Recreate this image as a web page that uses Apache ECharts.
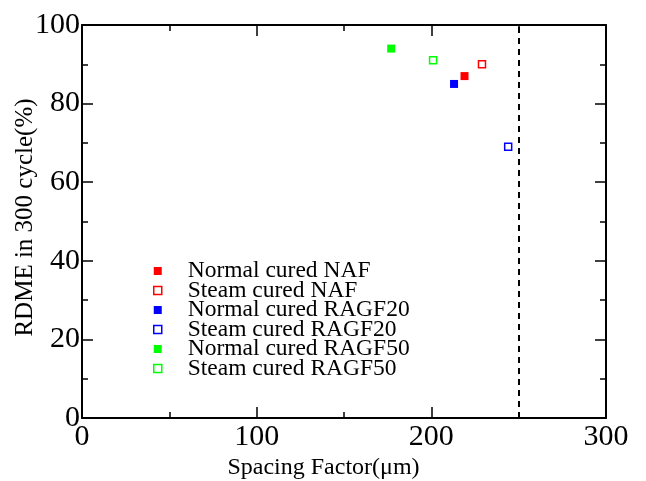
<!DOCTYPE html>
<html>
<head>
<meta charset="utf-8">
<script src="https://cdn.jsdelivr.net/npm/echarts@6/dist/echarts.min.js"></script>
<style>
  html, body { margin: 0; padding: 0; background: #fff; }
  #main { width: 646px; height: 481px; }
</style>
</head>
<body>
<div id="main"></div>
<script>
// data
var seriesNames = ['Normal cured NAF', 'Steam cured NAF', 'Normal cured RAGF20',
                   'Steam cured RAGF20', 'Normal cured RAGF50', 'Steam cured RAGF50'];
var spacingFactor = [219, 229, 213, 244, 177, 201];
var rdme = [87, 90, 85, 69, 94, 91];
var hollow = [false, true, false, true, false, true];
var seriesColors = ['#ff0000', '#ff0000', '#0000ff', '#0000ff', '#00ff00', '#00ff00'];
var limitLine = 250;

var fontFamily = '"Liberation Serif", "Times New Roman", serif';

function mirrorAxis(base, pos) {
    var ax = JSON.parse(JSON.stringify(base));
    ax.position = pos;
    ax.axisLabel = { show: false };
    ax.name = '';
    return ax;
}

var xBase = {
    type: 'value', min: 0, max: 300, interval: 100,
    axisLine: { show: true, onZero: false, lineStyle: { color: '#000', width: 2 } },
    axisTick: { show: true, inside: true, length: 11, lineStyle: { color: '#000', width: 1.5 } },
    minorTick: { show: true, splitNumber: 2, length: 6, lineStyle: { color: '#000', width: 1.5 } },
    splitLine: { show: false },
    axisLabel: { color: '#000', fontFamily: fontFamily, fontSize: 30, margin: 4 },
    name: 'Spacing Factor(\u03bcm)', nameLocation: 'middle', nameGap: 38, nameMoveOverlap: false,
    nameTextStyle: { color: '#000', fontFamily: fontFamily, fontSize: 24, padding: [0, 41, 0, 0] }
};
var yBase = {
    type: 'value', min: 0, max: 100, interval: 20,
    axisLine: { show: true, onZero: false, lineStyle: { color: '#000', width: 2 } },
    axisTick: { show: true, inside: true, length: 11, lineStyle: { color: '#000', width: 1.5 } },
    minorTick: { show: true, splitNumber: 2, length: 6, lineStyle: { color: '#000', width: 1.5 } },
    splitLine: { show: false },
    axisLabel: { color: '#000', fontFamily: fontFamily, fontSize: 30, margin: 2 },
    name: 'RDME in 300 cycle(%)', nameLocation: 'middle', nameGap: 44, nameMoveOverlap: false,
    nameTextStyle: { color: '#000', fontFamily: fontFamily, fontSize: 25, padding: [0, 0, 0, 8] }
};

var series = [];
var legendData = [];
for (var i = 0; i < seriesNames.length; i++) {
    var style = hollow[i]
        ? { color: '#fff', borderColor: seriesColors[i], borderWidth: 1.5, opacity: 1 }
        : { color: seriesColors[i], borderWidth: 0, opacity: 1 };
    series.push({
        name: seriesNames[i],
        type: 'scatter',
        symbol: 'rect',
        symbolSize: hollow[i] ? 7 : 8,
        itemStyle: style,
        data: [[spacingFactor[i], rdme[i]]]
    });
    legendData.push({ name: seriesNames[i], icon: 'rect', itemStyle: style });
}
// dashed limit at 250
series[0].markLine = {
    silent: true,
    symbol: ['none', 'none'],
    label: { show: false },
    lineStyle: { color: '#000', width: 2, type: [6, 5], opacity: 1 },
    data: [{ xAxis: limitLine }]
};

var chart = echarts.init(document.getElementById('main'));
chart.setOption({
    animation: false,
    backgroundColor: '#fff',
    grid: { left: 82, top: 25, right: 40, bottom: 63, containLabel: false, outerBoundsMode: 'none' },
    xAxis: [xBase, mirrorAxis(xBase, 'top')],
    yAxis: [yBase, mirrorAxis(yBase, 'right')],
    legend: {
        orient: 'vertical',
        left: 153, top: 259,
        padding: 0,
        itemGap: -4.5,
        itemWidth: 8, itemHeight: 8,
        data: legendData,
        textStyle: { color: '#000', fontFamily: fontFamily, fontSize: 23.5, lineHeight: 19.5, padding: [0, 0, 0, 21] }
    },
    series: series
});
</script>
</body>
</html>
